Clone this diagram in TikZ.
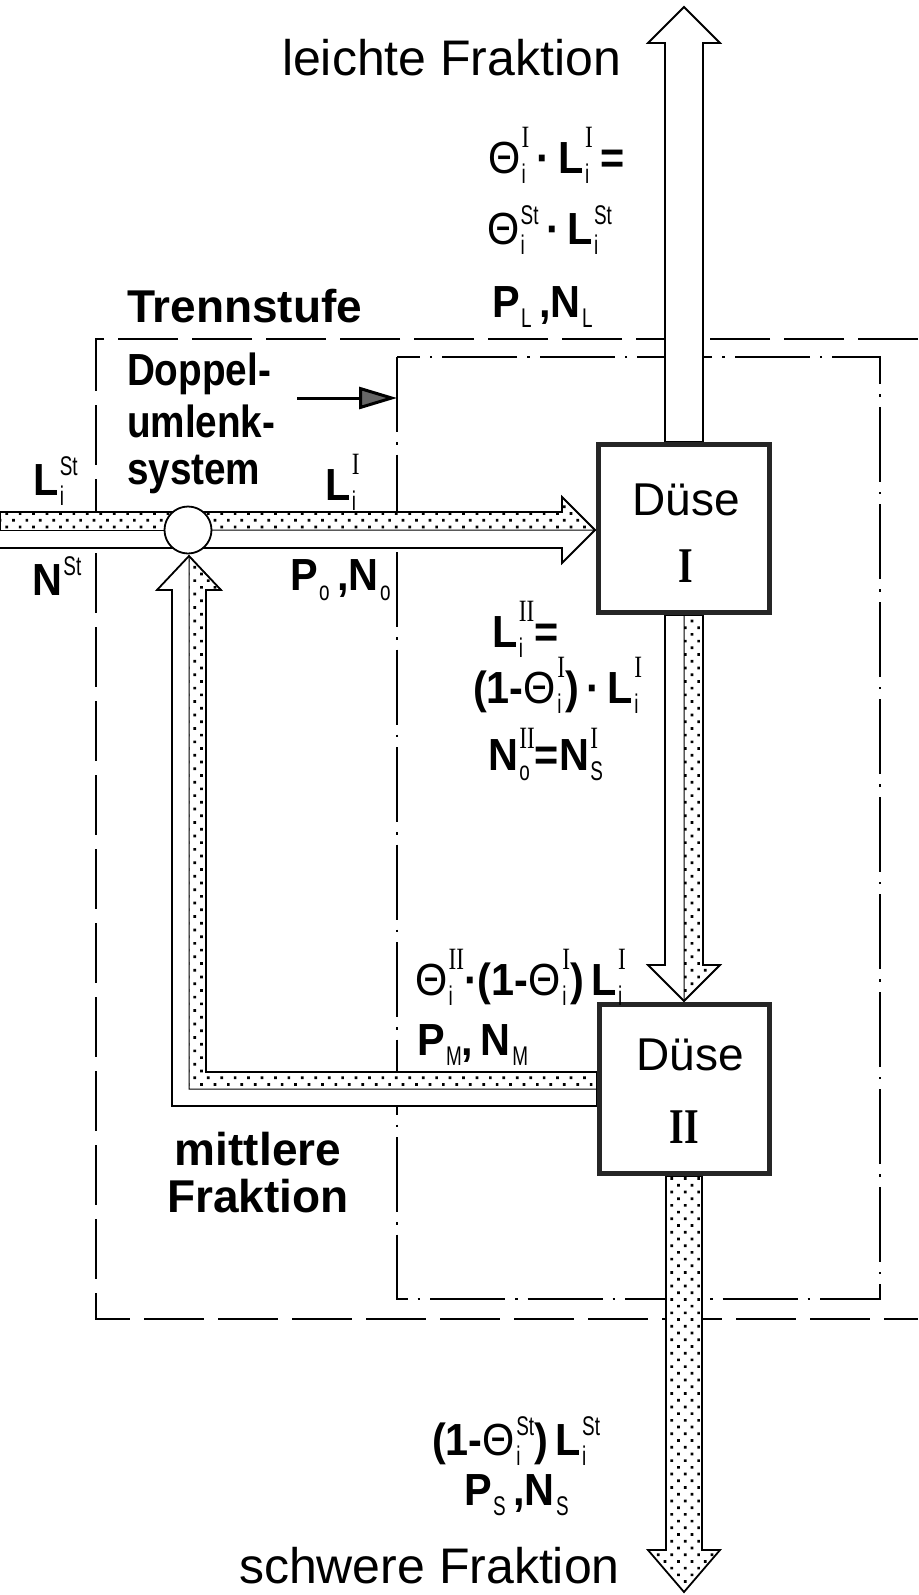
\documentclass[tikz,border=0pt]{standalone}
\usepackage{fontspec}
\setmainfont{Liberation Sans}
\newfontfamily\fReg{Liberation Sans}
\newfontfamily\fCond[FakeStretch=0.92]{Liberation Sans}
\newfontfamily\fCondB[FakeStretch=0.86]{Liberation Sans}
\newfontfamily\fScr[FakeStretch=0.7]{Liberation Sans}
\newfontfamily\fSerif[FakeStretch=0.75]{Liberation Serif}
\usetikzlibrary{arrows.meta,patterns.meta}

\newcommand\FM{\fCond\bfseries\fontsize{45}{50}\selectfont}
\newcommand\TXb{\fReg\bfseries\fontsize{46}{52}\selectfont}
\newcommand\TXc{\fCondB\bfseries\fontsize{45}{50}\selectfont}
\newcommand\BIG{\fReg\mdseries\fontsize{50}{56}\selectfont}
\newcommand\DU{\fReg\mdseries\fontsize{46}{52}\selectfont}
\newcommand\RNbig{\fSerif\bfseries\fontsize{50}{56}\selectfont}
\newcommand\Scr{\fScr\mdseries\fontsize{27}{29}\selectfont}
\newcommand\Rn[1]{{\fSerif\mdseries\fontsize{31}{33}\selectfont #1}}
\newcommand\Th{{\mdseries Θ}}
\newcommand\Sx[3][20pt]{%
  \setbox0=\hbox{\Scr #2}\setbox2=\hbox{\Scr #3}%
  \ifdim\wd0>\wd2 \dimen0=\wd0 \else \dimen0=\wd2 \fi
  \kern1.5pt\hbox to\dimen0{\rlap{\raise#1\box0}\lower10pt\box2\hfil}}

\begin{document}
\begin{tikzpicture}[x=1pt,y=-1pt,
  arrowbody/.style={draw=black, line width=1.8pt, fill=white, line join=miter},
  dotfill/.style={pattern={Dots[distance=9.5pt,radius=1.9pt,angle=45]}, draw=black, line width=1pt},
  nozzle/.style={draw=black!85, line width=5pt, fill=white, inner sep=0pt},
  outerbox/.style={line width=1.8pt, dash pattern=on 60pt off 14pt},
  innerbox/.style={line width=1.8pt, dash pattern=on 75pt off 10pt on 2.5pt off 10pt},
  lbl/.style={inner sep=0pt, outer sep=0pt}]
\useasboundingbox (0,0) rectangle (918,1595);

% system boundaries
\draw[outerbox] (918,339) -- (96,339) -- (96,1319) -- (918,1319);
\draw[innerbox] (397,357) rectangle (880,1299);

% light fraction (hollow, upward)
\draw[arrowbody] (665,442) -- (665,43) -- (648,43) -- (684,7) -- (720,43) -- (703,43) -- (703,442) -- cycle;

% feed band from the left
\draw[arrowbody] (0,512) -- (188,512) -- (188,548) -- (0,548);
\draw[dotfill] (0,512) rectangle (188,530);

% arrow circle -> Duese I
\draw[arrowbody] (188,512) -- (562,512) -- (562,497) -- (595,530) -- (562,563) -- (562,548) -- (188,548) -- cycle;
\draw[dotfill] (188,512) -- (562,512) -- (562,497) -- (595,530) -- (188,530) -- cycle;

% arrow Duese I -> Duese II
\draw[arrowbody] (665,615) -- (665,965) -- (648,965) -- (684,1001) -- (720,965) -- (703,965) -- (703,615) -- cycle;
\draw[dotfill] (684,615) -- (684,1001) -- (720,965) -- (703,965) -- (703,615) -- cycle;

% heavy fraction (dotted, downward)
\fill[white] (666,1176) -- (666,1550) -- (648,1550) -- (684,1592) -- (720,1550) -- (702,1550) -- (702,1176) -- cycle;
\draw[dotfill, line width=1.8pt] (666,1176) -- (666,1550) -- (648,1550) -- (684,1592) -- (720,1550) -- (702,1550) -- (702,1176) -- cycle;

% recirculation (middle fraction)
\draw[arrowbody] (597,1106) -- (172,1106) -- (172,590) -- (157,590) -- (189,556) -- (221,590) -- (206,590) -- (206,1072) -- (597,1072) -- cycle;
\draw[dotfill] (597,1089) -- (189,1089) -- (189,556) -- (221,590) -- (206,590) -- (206,1072) -- (597,1072) -- cycle;

% nozzles
\node[nozzle, minimum width=171pt, minimum height=168pt] (d1) at (684,528.5) {};
\node[nozzle, minimum width=170pt, minimum height=169pt] (d2) at (684.5,1089) {};
% mixing point
\node[circle, draw, fill=white, line width=1.8pt, minimum size=47pt, inner sep=0pt] (mix) at (188,530) {};

% pointer to the Doppelumlenksystem
\coordinate (ptrA) at (297,398);
\coordinate (ptrB) at (397,398);
\draw[line width=3pt, -{Triangle[length=38pt,width=22pt,fill=black!60]}] (ptrA) -- (ptrB);

% texts
\node[lbl, anchor=base west] (tLeicht) at (282,75) {\BIG leichte Fraktion};
\node[lbl, anchor=base west] (tSchwer) at (239,1583) {\BIG schwere Fraktion};
\node[lbl, anchor=base west] (tTrenn) at (127,322) {\TXb Trennstufe};
\node[lbl, anchor=base west] (tDop1) at (127,385) {\TXc Doppel-};
\node[lbl, anchor=base west] (tDop2) at (127,437) {\TXc umlenk-};
\node[lbl, anchor=base west] (tDop3) at (127,484) {\TXc system};
\node[lbl, anchor=base] (tMit1) at (258,1165) {\TXb mittlere};
\node[lbl, anchor=base] (tMit2) at (258,1212) {\TXb Fraktion};

\node[lbl, anchor=base] (tD1) at (686,515) {\DU Düse};
\node[lbl, anchor=base] (tD1n) at (686,582) {\RNbig I};
\node[lbl, anchor=base] (tD2) at (690,1070) {\DU Düse};
\node[lbl, anchor=base] (tD2n) at (684,1143) {\RNbig II};

\node[lbl, anchor=base west] (f1) at (488,173) {\FM\Th\Sx[26pt]{\Rn{I}}{i}\,·\,L\Sx[26pt]{\Rn{I}}{i}\,=};
\node[lbl, anchor=base west] (f2) at (487,244) {\FM\Th\Sx{St}{i}\,·\,L\Sx{St}{i}};
\node[lbl, anchor=base west] (f3) at (492,317) {\FM P\Sx{}{L}\,,N\Sx{}{L}};
\node[lbl, anchor=base west] (f4) at (33,495) {\FM L\Sx{St}{i}};
\node[lbl, anchor=base west] (f5) at (32,595) {\FM N\Sx{St}{}};
\node[lbl, anchor=base west] (f6) at (325,500) {\FM L\Sx[26pt]{\Rn{I}}{i}};
\node[lbl, anchor=base west] (f7) at (290,590) {\FM P\Sx{}{o}\,,N\Sx{}{o}};
\node[lbl, anchor=base west] (f8) at (492,647) {\FM L\Sx[26pt]{\Rn{II}}{i}=};
\node[lbl, anchor=base west] (f9) at (473,703) {\FM(1-\Th\Sx[26pt]{\Rn{I}}{i})\,·\,L\Sx[26pt]{\Rn{I}}{i}};
\node[lbl, anchor=base west] (f10) at (488,770) {\FM N\Sx[22pt]{\Rn{II}}{o}=N\Sx[22pt]{\Rn{I}}{S}};
\node[lbl, anchor=base west] (f11) at (415,995) {\FM\Th\Sx[26pt]{\Rn{II}}{i}·(1-\Th\Sx[26pt]{\Rn{I}}{i})\,L\Sx[26pt]{\Rn{I}}{i}};
\node[lbl, anchor=base west] (f12) at (417,1055) {\FM P\Sx{}{M},\,N\Sx{}{M}};
\node[lbl, anchor=base west] (f13) at (432,1455) {\FM(1-\Th\Sx{St}{i})\,L\Sx{St}{i}};
\node[lbl, anchor=base west] (f14) at (464,1505) {\FM P\Sx{}{S}\,,N\Sx{}{S}};
\end{tikzpicture}
\end{document}
